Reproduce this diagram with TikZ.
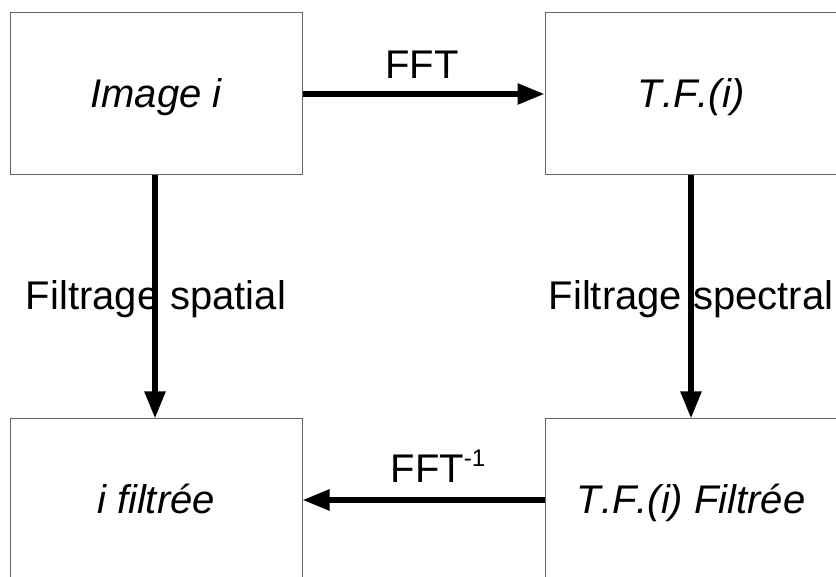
\documentclass[tikz,border=0pt]{standalone}
\usepackage{fontspec}
\setmainfont[Kerning=Off]{Liberation Sans}
\usetikzlibrary{arrows.meta}
\begin{document}
\begin{tikzpicture}[x=1pt,y=1pt,
  box/.style={draw=black!60, line width=1pt, fill=white, minimum width=292pt, minimum height=162pt,
    inner sep=0pt, text height=28pt, text depth=0pt, font=\fontsize{40}{48}\selectfont\itshape},
  flow/.style={line width=5.5pt, -{Triangle[length=27pt,width=20pt]}},
  lbl/.style={anchor=base, inner sep=0pt, font=\fontsize{40}{48}\selectfont}]
\useasboundingbox (0,0) rectangle (836,577);
\clip (0,0) rectangle (836,577);
\node[box] (img) at (156,483) {Image i};
\node[box] (tf) at (691,483) {T.F.(i)};
\node[box] (ifil) at (156,77) {i filtrée};
\node[box] (tff) at (691,77) {T.F.(i) Filtrée};
\draw[flow] (img.east) -- (tf.west);
\draw[flow] (tff.west) -- (ifil.east);
\draw[flow] (img.south -| 155,0) -- (ifil.north -| 155,0);
\draw[flow] (tf.south) -- (tff.north);
\node[lbl] (lfft) at (422,498) {FFT};
\node[lbl] (lifft) at (438,94) {FFT\raisebox{0.42em}{\fontsize{24}{24}\selectfont -1}};
\node[lbl] (lsp) at (156,267) {Filtrage spatial};
\node[lbl] (lspec) at (691,267) {Filtrage spectral};
\end{tikzpicture}
\end{document}
